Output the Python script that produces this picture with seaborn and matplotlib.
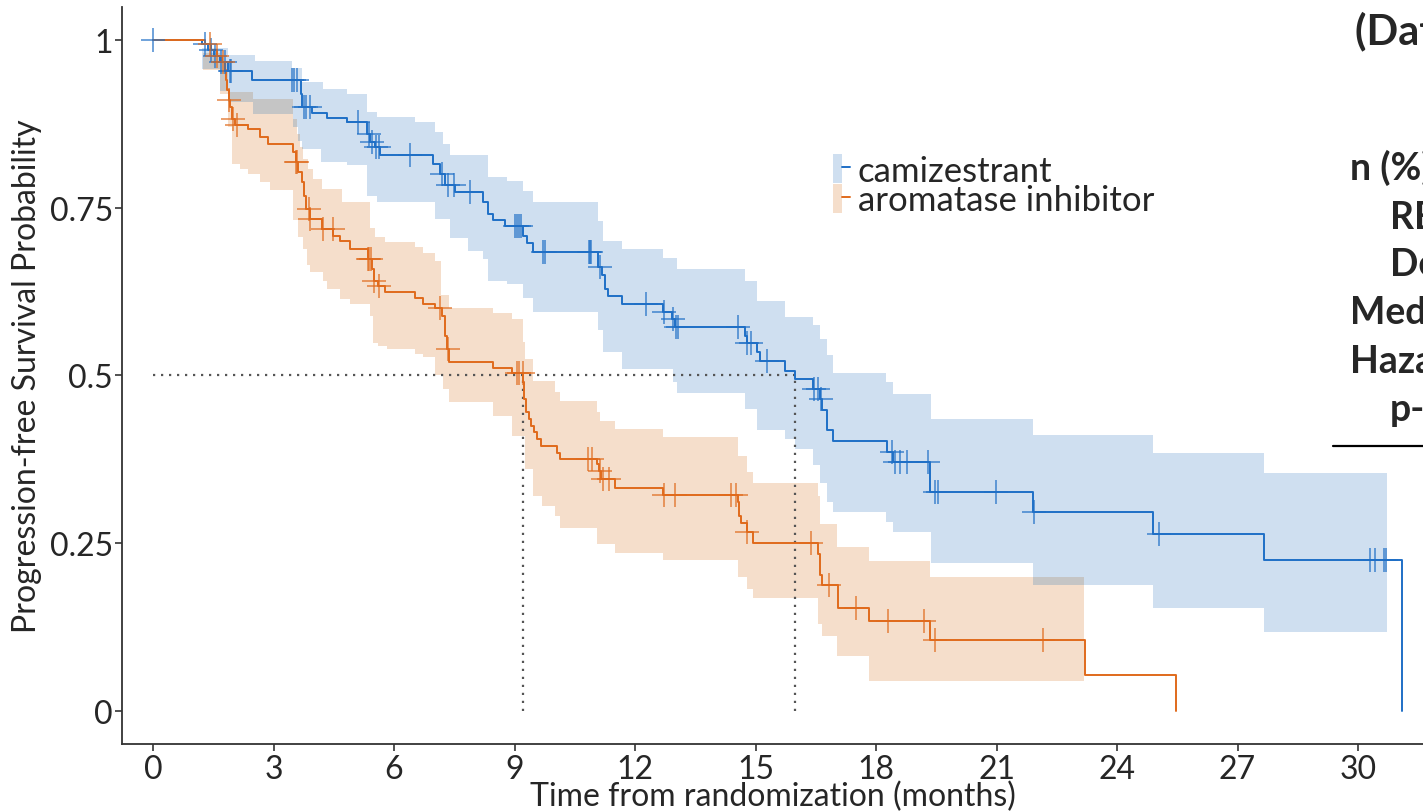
import numpy as np
import pandas as pd
import matplotlib
matplotlib.use("Agg")
import matplotlib.pyplot as plt
import seaborn as sns
from matplotlib.patches import Patch
from matplotlib.lines import Line2D
from matplotlib.legend_handler import HandlerTuple

sns.set_theme(style="white")
plt.rcParams['font.family'] = ['Lato', 'DejaVu Sans']

# ---------------- data ----------------
series_names = ["camizestrant", "aromatase inhibitor"]

blue_event_t = [1.22, 1.37, 1.52, 1.67, 1.87, 2.46, 3.68, 3.72, 3.96, 4.33, 4.83, 5.33, 5.40, 5.53, 5.65,
                6.97, 7.15, 7.27, 7.52, 8.22, 8.34, 8.46, 8.76, 9.21, 9.31, 9.46, 11.08, 11.18, 11.25, 11.33,
                11.68, 12.70, 12.92, 12.99, 14.74, 14.79, 15.04, 15.11, 15.73, 15.98, 16.43, 16.60, 16.65,
                16.78, 16.93, 18.27, 18.42, 19.34, 21.91, 24.89, 27.66, 31.09]
blue_event_s = [0.994, 0.985, 0.976, 0.967, 0.954, 0.940, 0.92, 0.90, 0.891, 0.884, 0.878, 0.86, 0.848, 0.84,
                0.828, 0.815, 0.80, 0.784, 0.774, 0.758, 0.741, 0.731, 0.723, 0.708, 0.697, 0.684, 0.661,
                0.649, 0.629, 0.619, 0.607, 0.594, 0.584, 0.572, 0.559, 0.548, 0.535, 0.521, 0.507, 0.495,
                0.480, 0.465, 0.448, 0.418, 0.402, 0.386, 0.371, 0.326, 0.296, 0.263, 0.225, 0.0]

orange_event_t = [1.30, 1.45, 1.60, 1.72, 1.78, 1.82, 1.85, 1.88, 1.92, 1.97, 2.05, 2.36, 2.66, 2.86, 3.48,
                  3.55, 3.62, 3.70, 3.75, 3.82, 3.92, 4.20, 4.48, 4.65, 4.90, 5.35, 5.45, 5.50, 5.60, 5.78,
                  6.52, 6.72, 7.02, 7.19, 7.28, 7.32, 7.36, 8.46, 8.93, 9.22, 9.24, 9.28, 9.35, 9.42, 9.48,
                  9.55, 9.67, 10.05, 10.13, 11.05, 11.10, 11.15, 11.50, 12.70, 14.57, 14.60, 14.65, 14.78,
                  14.94, 16.55, 16.60, 16.65, 17.06, 17.82, 19.34, 23.20, 25.48]
orange_event_s = [0.994, 0.985, 0.976, 0.967, 0.955, 0.94, 0.925, 0.91, 0.90, 0.882, 0.873, 0.867, 0.855,
                  0.845, 0.833, 0.818, 0.803, 0.788, 0.768, 0.748, 0.733, 0.718, 0.708, 0.701, 0.689, 0.674,
                  0.659, 0.641, 0.634, 0.624, 0.615, 0.607, 0.601, 0.589, 0.559, 0.54, 0.520, 0.511, 0.504,
                  0.490, 0.465, 0.445, 0.435, 0.425, 0.415, 0.405, 0.395, 0.385, 0.376, 0.368, 0.358, 0.346,
                  0.333, 0.322, 0.311, 0.291, 0.280, 0.266, 0.250, 0.234, 0.203, 0.188, 0.153, 0.134, 0.106,
                  0.053, 0.0]

blue_cens_t = [0.0, 1.3, 1.45, 1.55, 1.7, 1.8, 1.92, 1.95, 3.46, 3.52, 3.58, 3.76, 3.8, 3.9, 5.1, 5.38, 5.45,
               5.55, 5.62, 6.4, 7.2, 7.35, 7.5, 7.9, 9.0, 9.05, 9.1, 9.15, 9.7, 9.77, 10.86, 10.88, 10.9,
               11.13, 12.27, 12.72, 12.95, 13.03, 13.08, 14.56, 14.8, 14.9, 15.28, 16.45, 16.55, 16.62, 18.4,
               18.47, 18.6, 18.77, 19.3, 19.48, 19.54, 20.98, 21.93, 25.04, 30.3, 30.42, 30.64, 30.7]
orange_cens_t = [1.42, 1.6, 1.75, 1.9, 2.0, 2.08, 3.55, 3.58, 3.88, 3.92, 4.22, 4.47, 5.35, 5.38, 5.42, 5.5,
                 5.62, 7.15, 7.35, 9.05, 9.12, 9.2, 10.83, 10.93, 11.12, 11.2, 11.35, 12.72, 13.0, 14.4,
                 14.52, 14.78, 16.38, 16.84, 17.5, 18.3, 19.2, 19.47, 22.16]

blue_hi_t = [1.22, 1.87, 2.54, 3.46, 3.71, 4.23, 4.83, 5.33, 5.58, 6.52, 7.02, 7.22, 7.39, 8.34, 8.81, 9.21,
             9.46, 11.08, 11.20, 11.68, 12.70, 13.04, 14.74, 15.04, 15.73, 16.43, 16.60, 16.78, 16.93, 18.25,
             18.42, 19.37, 21.91, 24.89, 27.66]
blue_hi = [0.988, 0.977, 0.969, 0.958, 0.937, 0.927, 0.919, 0.893, 0.885, 0.878, 0.862, 0.845, 0.828, 0.795,
           0.790, 0.775, 0.758, 0.73, 0.701, 0.689, 0.675, 0.659, 0.64, 0.611, 0.587, 0.575, 0.555, 0.53,
           0.504, 0.49, 0.473, 0.435, 0.411, 0.385, 0.355]
blue_lo_t = [1.22, 1.67, 1.87, 2.49, 3.48, 3.60, 3.71, 4.18, 4.83, 5.33, 5.58, 7.02, 7.39, 7.84, 8.22, 8.34,
             8.81, 9.21, 9.46, 11.08, 11.20, 11.68, 12.94, 13.04, 14.74, 15.04, 15.73, 15.98, 16.43, 16.60,
             16.78, 16.93, 18.25, 18.42, 19.37, 21.91, 24.89, 27.66]
blue_lo = [0.957, 0.924, 0.907, 0.890, 0.87, 0.85, 0.838, 0.818, 0.813, 0.768, 0.758, 0.733, 0.705, 0.686,
           0.674, 0.641, 0.636, 0.615, 0.594, 0.567, 0.535, 0.510, 0.49, 0.474, 0.45, 0.418, 0.405, 0.390,
           0.366, 0.34, 0.311, 0.296, 0.282, 0.266, 0.221, 0.188, 0.154, 0.117]
blue_ci_end = 30.72

orange_hi_t = [1.25, 1.67, 1.87, 2.49, 3.48, 3.58, 3.65, 3.73, 3.86, 3.98, 4.21, 4.70, 5.40, 5.53, 5.78, 6.52,
               6.72, 7.02, 7.17, 7.36, 8.46, 8.93, 9.22, 9.27, 9.46, 10.01, 10.13, 11.05, 11.13, 11.50, 12.70,
               14.56, 14.78, 14.94, 16.55, 16.60, 17.03, 17.82, 19.34]
orange_hi = [0.98, 0.967, 0.922, 0.912, 0.882, 0.86, 0.84, 0.823, 0.808, 0.793, 0.778, 0.758, 0.72, 0.706,
             0.699, 0.691, 0.683, 0.67, 0.62, 0.601, 0.593, 0.584, 0.55, 0.525, 0.492, 0.475, 0.462, 0.445,
             0.432, 0.42, 0.409, 0.38, 0.356, 0.34, 0.32, 0.279, 0.244, 0.224, 0.2]
orange_lo_t = [1.25, 1.67, 1.87, 1.97, 2.17, 2.37, 2.66, 2.91, 3.48, 3.61, 3.73, 3.83, 3.91, 4.23, 4.33, 4.66,
               4.90, 5.40, 5.48, 5.60, 5.83, 6.52, 6.72, 7.02, 7.22, 7.36, 8.46, 8.93, 9.27, 9.46, 9.68, 10.01,
               10.13, 11.05, 11.50, 12.70, 14.56, 14.78, 14.94, 16.55, 16.65, 17.03, 17.82]
orange_lo = [0.955, 0.92, 0.87, 0.815, 0.808, 0.800, 0.788, 0.777, 0.731, 0.706, 0.689, 0.665, 0.654, 0.64,
             0.629, 0.614, 0.607, 0.589, 0.549, 0.544, 0.539, 0.532, 0.527, 0.50, 0.48, 0.46, 0.44, 0.41, 0.36,
             0.321, 0.306, 0.291, 0.273, 0.249, 0.235, 0.225, 0.20, 0.182, 0.169, 0.13, 0.112, 0.082, 0.045]
orange_ci_end = 23.18

medians = [15.98, 9.22]

x_ticks = [0, 3, 6, 9, 12, 15, 18, 21, 24, 27, 30]
y_ticks = [0, 0.25, 0.5, 0.75, 1]
y_tick_labels = ["0", "0.25", "0.5", "0.75", "1"]

side_title = "(Data cutoff)"
side_texts = ["n (%)", "RECIST", "Deaths", "Median", "Hazard ratio", "p-value"]

# ---------------- style ----------------
BLUE = "#1F6FC6"
ORANGE = "#E06A1C"
BLUE_BAND = "#CFDFF0"
ORANGE_BAND = "#F5DECB"
GRAY_BAND = "#C5C5C5"

W, H = 1423, 812
fig = plt.figure(figsize=(W / 100, H / 100), dpi=100)
x_lo, x_hi = -0.772, 32.0
ax_left_px, ax_bottom_px, ax_top_px = 122, 745, 8
ax_right_px = 153 + x_hi * (1358 - 153) / 30
ax_w_px = ax_right_px - ax_left_px
ax_h_px = ax_bottom_px - ax_top_px
ax = fig.add_axes([ax_left_px / W, 1 - ax_bottom_px / H, ax_w_px / W, ax_h_px / H])


def step_value(times, values, t, before=1.0):
    idx = np.searchsorted(np.asarray(times), t, side="right") - 1
    return before if idx < 0 else values[idx]


def band_grid(hi_t, hi, lo_t, lo, end):
    grid = np.unique(np.concatenate([hi_t, lo_t, [end]]))
    h = np.array([step_value(hi_t, hi, g) for g in grid])
    l = np.array([step_value(lo_t, lo, g) for g in grid])
    return grid, h, l


bg, bh, bl = band_grid(blue_hi_t, blue_hi, blue_lo_t, blue_lo, blue_ci_end)
og, oh, ol = band_grid(orange_hi_t, orange_hi, orange_lo_t, orange_lo, orange_ci_end)

ax.fill_between(bg, bl, bh, step="post", color=BLUE_BAND, lw=0, zorder=1)
ax.fill_between(og, ol, oh, step="post", color=ORANGE_BAND, lw=0, zorder=1)

# overlap of the two confidence bands (drawn grey)
cg = np.unique(np.concatenate([bg, og]))
cg = cg[(cg >= max(bg[0], og[0])) & (cg <= min(bg[-1], og[-1]))]
ch = np.array([min(step_value(bg, bh, g), step_value(og, oh, g)) for g in cg])
cl = np.array([max(step_value(bg, bl, g), step_value(og, ol, g)) for g in cg])
ch = np.maximum(ch, cl)
ax.fill_between(cg, cl, ch, step="post", color=GRAY_BAND, lw=0, zorder=1.5)

# median reference lines
dot = dict(color="#555555", lw=1.6, linestyle=(0, (1, 2.6)), zorder=2)
ax.plot([0, max(medians)], [0.5, 0.5], **dot)
for m in medians:
    ax.plot([m, m], [0, 0.5], **dot)

# survival curves
for et, es, col in [(blue_event_t, blue_event_s, BLUE), (orange_event_t, orange_event_s, ORANGE)]:
    df = pd.DataFrame({"t": [0.0] + et, "s": [1.0] + es})
    sns.lineplot(data=df, x="t", y="s", drawstyle="steps-post", estimator=None, sort=False,
                 color=col, lw=1.4, ax=ax, zorder=3)

# censor marks
for ct, et, es, col in [(blue_cens_t, blue_event_t, blue_event_s, BLUE),
                        (orange_cens_t, orange_event_t, orange_event_s, ORANGE)]:
    cs = [step_value(et, es, t) for t in ct]
    sns.scatterplot(x=ct, y=cs, marker="+", s=300, color=col, linewidth=1.2, alpha=0.75, ax=ax, zorder=4)

ax.set_xlim(x_lo, x_hi)
ax.set_ylim(-0.0492, 1.049)
ax.set_xticks(x_ticks)
ax.set_xticklabels([str(v) for v in x_ticks])
ax.set_yticks(y_ticks)
ax.set_yticklabels(y_tick_labels)
ax.tick_params(axis="both", which="both", direction="out", length=5, width=1.2, color="#333333",
               labelsize=23, bottom=True, left=True)
ax.tick_params(axis="x", pad=2)
ax.tick_params(axis="y", pad=1.5)
for sp in ["top", "right"]:
    ax.spines[sp].set_visible(False)
for sp in ["left", "bottom"]:
    ax.spines[sp].set_color("#333333")
    ax.spines[sp].set_linewidth(1.3)

ax.set_xlabel("Time from randomization (months)", fontsize=23)
ax.xaxis.set_label_coords((773 - ax_left_px) / ax_w_px, -(782 - ax_bottom_px) / ax_h_px)
ax.set_ylabel("Progression-free Survival Probability", fontsize=23)
ax.yaxis.set_label_coords(-(ax_left_px - 42) / ax_w_px, 0.5)

# legend
handles = [(Patch(facecolor=BLUE_BAND, edgecolor="none"), Line2D([], [], color=BLUE, lw=1.4)),
           (Patch(facecolor=ORANGE_BAND, edgecolor="none"), Line2D([], [], color=ORANGE, lw=1.4))]
ax.legend(handles, series_names, handler_map={tuple: HandlerTuple(ndivide=None, pad=0)},
          loc="upper left", bbox_to_anchor=(833 / W, 1 - 155 / H), bbox_transform=fig.transFigure,
          frameon=False, fontsize=25, handlelength=0.49, handleheight=0.92, handletextpad=0.22,
          labelspacing=-0.08, borderpad=0, borderaxespad=0)

# cropped table on the right
fig.text(1355 / W, 1 - 31 / H, side_title, fontsize=30, fontweight="bold", ha="left", va="center")
side_x = [1350, 1390, 1390, 1350, 1350, 1390]
side_y = [168, 218, 265, 313, 362, 410]
for txt, xx, yy in zip(side_texts, side_x, side_y):
    fig.text(xx / W, 1 - yy / H, txt, fontsize=27, fontweight="bold", ha="left", va="center")
fig.add_artist(Line2D([1333 / W, 1.0], [1 - 447 / H, 1 - 447 / H], color="black", lw=1.6,
                      transform=fig.transFigure))

fig.savefig("out.png", dpi=100)
